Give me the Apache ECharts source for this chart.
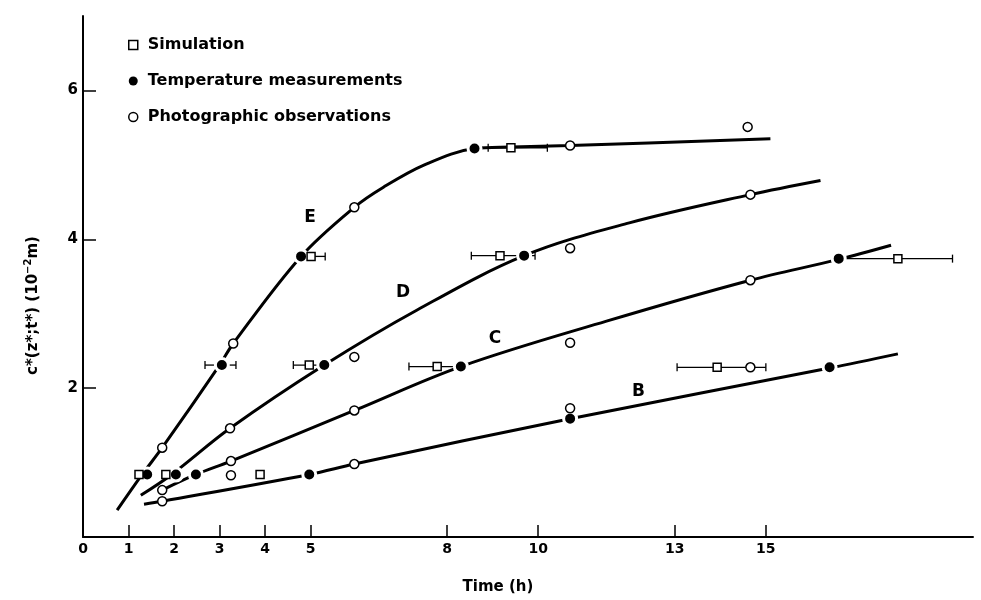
<!DOCTYPE html>
<html><head><meta charset="utf-8">
<script src="https://cdn.jsdelivr.net/npm/echarts@6/dist/echarts.min.js"></script>
<style>html,body{margin:0;padding:0;background:#fff}#c{width:981px;height:600px}</style>
</head><body><div id="c"></div>
<script>
// ---- data (time in h, c* in 10^-2 m) ----
const xTickValues = [0, 1, 2, 3, 4, 5, 8, 10, 13, 15];
const yTickValues = [2, 4, 6];

const curveE = [[0.75,0.36],[1.3,0.84],[1.74,1.2],[3.0,2.31],[3.3,2.6],[4.79,3.77],[5.96,4.43],[6.6,4.7],[7.5,5.0],[8.6,5.22],[9.4,5.24],[10.7,5.26],[15.1,5.35]];
const curveD = [[1.27,0.56],[1.95,0.84],[3.23,1.46],[5.3,2.31],[7.34,3.05],[9.69,3.78],[12.0,4.22],[14.66,4.6],[16.2,4.79]];
const curveC = [[1.74,0.63],[2.48,0.84],[3.25,1.02],[5.96,1.7],[8.3,2.29],[11.5,2.9],[14.66,3.45],[16.6,3.73],[17.75,3.92]];
const curveB = [[1.34,0.44],[1.74,0.48],[4.97,0.84],[5.96,0.98],[10.7,1.59],[16.4,2.27],[17.9,2.46]];

const simulation = [[1.23,0.84],[5.01,3.77],[9.4,5.23],[1.82,0.84],[4.97,2.31],[9.16,3.78],[3.89,0.84],[7.78,2.29],[17.9,3.74],[13.93,2.28]];
const temperature = [[1.41,0.84],[3.05,2.31],[4.79,3.77],[8.6,5.22],[2.04,0.84],[5.3,2.31],[9.69,3.78],[2.48,0.84],[8.3,2.29],[16.6,3.74],[4.97,0.84],[10.7,1.59],[16.4,2.28]];
const photographic = [[1.74,1.2],[3.3,2.6],[5.96,4.43],[10.7,5.26],[14.6,5.51],[3.23,1.46],[5.96,2.42],[10.7,3.88],[14.66,4.6],[1.74,0.63],[3.25,1.02],[3.25,0.83],[5.96,1.7],[10.7,2.61],[14.66,3.45],[1.74,0.48],[5.96,0.98],[10.7,1.73],[14.66,2.28]];

// error bars: [c*, t low, t high]
const errorBars = [[2.31,2.68,3.36],[3.77,4.66,5.32],[5.23,8.9,10.2],[2.31,4.62,5.43],[3.78,8.53,9.93],[2.29,7.16,8.3],[3.74,16.6,19.1],[2.28,13.05,15.0]];

const curveNames = ['E', 'D', 'C', 'B'];
const curveLabelPos = [[4.99,4.29],[7.03,3.29],[9.05,2.66],[12.2,1.96]];

const FONT = 'DejaVu Sans';
const chart = echarts.init(document.getElementById('c'));

function curveSeries(data) {
  return { type: 'line', data: data, smooth: 0.35, symbol: 'none', z: 2,
    lineStyle: { color: '#000', width: 3 }, silent: true };
}

chart.setOption({
  animation: false,
  backgroundColor: '#fff',
  grid: { left: 83, right: 8, top: 16, bottom: 60 },
  legend: {
    orient: 'vertical', left: 123, top: 31, itemWidth: 9, itemHeight: 9, itemGap: 18,
    textStyle: { fontFamily: FONT, fontWeight: 'bold', fontSize: 16, color: '#000', lineHeight: 18, padding: [0,0,0,5] },
    data: [
      { name: 'Simulation', icon: 'rect', itemStyle: { color: '#fff', borderColor: '#000', borderWidth: 1.5, opacity: 1 } },
      { name: 'Temperature measurements', icon: 'circle', itemStyle: { color: '#000', borderColor: '#000', borderWidth: 0, opacity: 1 } },
      { name: 'Photographic observations', icon: 'circle', itemStyle: { color: '#fff', borderColor: '#000', borderWidth: 1.5, opacity: 1 } }
    ],
    selectedMode: false
  },
  xAxis: {
    type: 'value', min: 0, max: 19.55,
    name: 'Time (h)', nameLocation: 'middle', nameGap: 43,
    nameTextStyle: { fontFamily: FONT, fontWeight: 'bold', fontSize: 15, color: '#000', padding: [0, 60, 0, 0] },
    axisLine: { lineStyle: { color: '#000', width: 2 } },
    axisTick: { show: true, inside: true, length: 12, lineStyle: { color: '#000', width: 1.5 }, customValues: xTickValues.filter(v => v > 0) },
    axisLabel: { customValues: xTickValues, fontFamily: FONT, fontWeight: 'bold', fontSize: 14, color: '#000', margin: 5,
      formatter: v => String(v) },
    splitLine: { show: false }
  },
  yAxis: {
    type: 'value', min: 0, max: 7,
    name: '{a|c*(z*;t*) (10}{s|−2}{a|m)}', nameLocation: 'middle', nameGap: 40, nameRotate: 90,
    nameTextStyle: { padding: [0, 58, 0, 0],
      rich: { a: { fontFamily: FONT, fontWeight: 'bold', fontSize: 15, color: '#000', lineHeight: 20 },
              s: { fontFamily: FONT, fontWeight: 'bold', fontSize: 10, color: '#000', lineHeight: 10, verticalAlign: 'top' } } },
    axisLine: { show: true, lineStyle: { color: '#000', width: 2 } },
    axisTick: { show: true, inside: true, length: 13, lineStyle: { color: '#000', width: 1.5 }, customValues: yTickValues },
    axisLabel: { customValues: yTickValues, fontFamily: FONT, fontWeight: 'bold', fontSize: 15, color: '#000', margin: 5 },
    splitLine: { show: false }
  },
  series: [
    curveSeries(curveE), curveSeries(curveD), curveSeries(curveC), curveSeries(curveB),
    { type: 'custom', z: 3, silent: true, data: errorBars,
      renderItem: function (params, api) {
        const y = api.value(0), lo = api.value(1), hi = api.value(2);
        const p1 = api.coord([lo, y]), p2 = api.coord([hi, y]);
        const st = { stroke: '#000', lineWidth: 1.3 };
        return { type: 'group', children: [
          { type: 'line', shape: { x1: p1[0], y1: p1[1], x2: p2[0], y2: p2[1] }, style: st },
          { type: 'line', shape: { x1: p1[0], y1: p1[1] - 4, x2: p1[0], y2: p1[1] + 4 }, style: st },
          { type: 'line', shape: { x1: p2[0], y1: p2[1] - 4, x2: p2[0], y2: p2[1] + 4 }, style: st }
        ] };
      },
      encode: { x: [1, 2], y: 0 } },
    { name: 'Simulation', type: 'scatter', data: simulation, symbol: 'rect', symbolSize: 8, z: 5,
      itemStyle: { color: '#fff', borderColor: '#000', borderWidth: 1.5, opacity: 1 } },
    { name: 'Temperature measurements', type: 'scatter', data: temperature, symbol: 'circle', symbolSize: 13, z: 4,
      itemStyle: { color: '#000', borderColor: '#fff', borderWidth: 3, opacity: 1 } },
    { name: 'Photographic observations', type: 'scatter', data: photographic, symbol: 'circle', symbolSize: 9, z: 5,
      itemStyle: { color: '#fff', borderColor: '#000', borderWidth: 1.5, opacity: 1 } },
    { type: 'scatter', symbolSize: 0, z: 6, silent: true, itemStyle: { opacity: 1 },
      data: curveNames.map((n, i) => ({ name: n, value: curveLabelPos[i] })),
      label: { show: true, position: 'inside', formatter: p => p.name,
        fontFamily: FONT, fontWeight: 'bold', fontSize: 17, color: '#000' } }
  ]
});
</script></body></html>
